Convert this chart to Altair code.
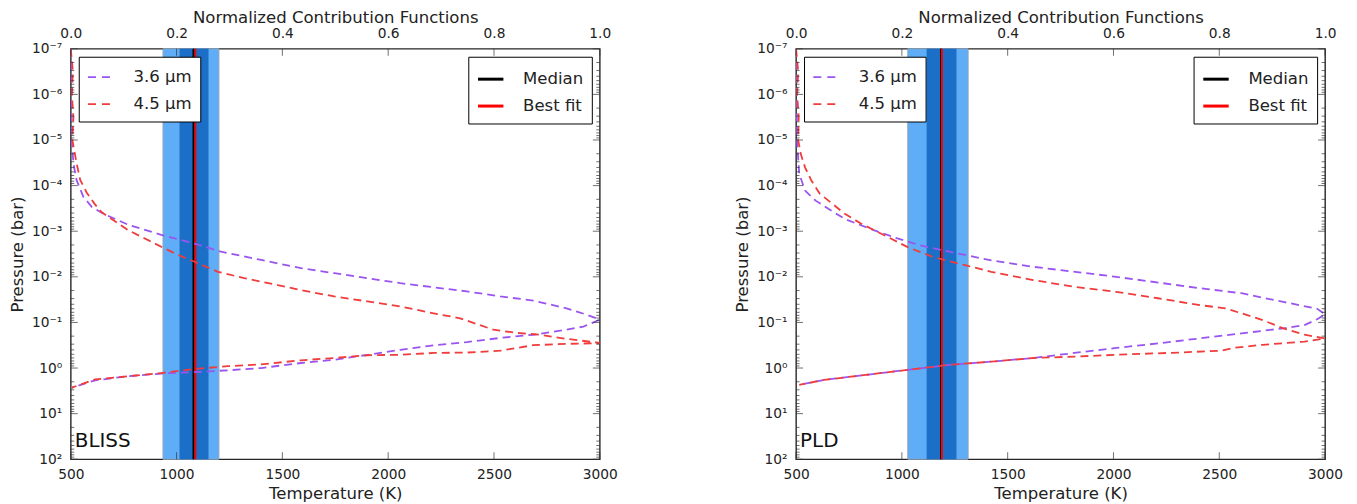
import altair as alt
import pandas as pd

# ---------------- data ----------------
# log10 pressure (bar) and normalized contribution, BLISS panel
BLISS_36_LOGP = [-7.0, -6.0, -5.0, -4.49, -4.12, -3.75, -3.53, -3.37, -3.14, -2.92, -2.73, -2.55, -2.37,
                 -2.19, -2.08, -1.97, -1.86, -1.77, -1.68, -1.57, -1.48, -1.31, -1.17, -1.06, -0.91,
                 -0.84, -0.73, -0.66, -0.57, -0.50, -0.40, -0.29, -0.18, -0.11, 0.00, 0.05, 0.09,
                 0.12, 0.18, 0.27, 0.43]
BLISS_36_C = [0.0, 0.001, 0.002, 0.005, 0.011, 0.024, 0.040, 0.064, 0.109, 0.171, 0.234, 0.284, 0.360,
              0.435, 0.498, 0.561, 0.623, 0.686, 0.749, 0.812, 0.874, 0.937, 0.975, 1.0, 0.969,
              0.937, 0.874, 0.812, 0.749, 0.686, 0.623, 0.561, 0.498, 0.435, 0.360, 0.297, 0.234,
              0.171, 0.109, 0.046, 0.002]
BLISS_45_LOGP = [-7.0, -6.5, -6.0, -5.5, -5.0, -4.49, -4.12, -3.85, -3.60, -3.42, -3.02, -2.84, -2.66,
                 -2.48, -2.33, -2.11, -1.97, -1.82, -1.71, -1.57, -1.46, -1.35, -1.20, -1.09, -0.99,
                 -0.84, -0.77, -0.73, -0.64, -0.56, -0.545, -0.53, -0.50, -0.44, -0.38, -0.34, -0.33,
                 -0.29, -0.28, -0.22, -0.17, -0.08, -0.04, 0.02, 0.11, 0.18, 0.25, 0.43]
BLISS_45_C = [0.0, 0.004, 0.002, 0.005, 0.003, 0.011, 0.018, 0.030, 0.045, 0.058, 0.109, 0.140, 0.171,
              0.203, 0.234, 0.278, 0.328, 0.391, 0.435, 0.498, 0.561, 0.623, 0.686, 0.736, 0.761,
              0.799, 0.843, 0.887, 0.937, 0.994, 1.0, 0.937, 0.874, 0.843, 0.812, 0.749, 0.686,
              0.623, 0.561, 0.498, 0.435, 0.360, 0.297, 0.234, 0.171, 0.109, 0.046, 0.002]

# PLD panel
PLD_36_LOGP = [-7.0, -6.0, -5.0, -4.77, -4.26, -3.89, -3.67, -3.49, -3.27, -3.16, -3.02, -2.86, -2.69,
               -2.55, -2.36, -2.22, -2.00, -1.75, -1.64, -1.45, -1.30, -1.18, -1.07, -0.94, -0.87,
               -0.76, -0.65, -0.54, -0.44, -0.33, -0.22, -0.14, -0.07, 0.04, 0.15, 0.26, 0.37]
PLD_36_C = [0.0, 0.001, 0.002, 0.003, 0.006, 0.017, 0.037, 0.061, 0.092, 0.116, 0.148, 0.187, 0.234,
            0.290, 0.369, 0.448, 0.605, 0.763, 0.842, 0.921, 0.985, 1.0, 0.985, 0.961, 0.921,
            0.842, 0.763, 0.684, 0.605, 0.526, 0.448, 0.369, 0.290, 0.211, 0.132, 0.053, 0.006]
PLD_45_LOGP = [-7.0, -6.5, -6.0, -5.5, -5.0, -4.69, -4.40, -4.11, -3.82, -3.60, -3.38, -3.16, -3.02,
               -2.84, -2.65, -2.44, -2.25, -2.11, -1.93, -1.78, -1.67, -1.53, -1.38, -1.31, -1.20,
               -1.05, -0.87, -0.73, -0.65, -0.58, -0.51, -0.44, -0.38, -0.34, -0.29, -0.25, -0.22,
               -0.14, -0.07, 0.04, 0.15, 0.26, 0.37]
PLD_45_C = [0.0, 0.004, 0.002, 0.005, 0.004, 0.009, 0.017, 0.029, 0.045, 0.069, 0.092, 0.124, 0.148,
            0.179, 0.211, 0.258, 0.321, 0.369, 0.448, 0.526, 0.605, 0.684, 0.763, 0.811, 0.842,
            0.882, 0.921, 0.961, 1.0, 0.961, 0.882, 0.826, 0.803, 0.724, 0.605, 0.526, 0.448,
            0.369, 0.290, 0.211, 0.132, 0.053, 0.006]

# isothermal temperature: 2-sigma band, 1-sigma band, median, best fit (K)
BLISS_2SIG = [936, 1200]
BLISS_1SIG = [1014, 1151]
BLISS_MEDIAN = 1080
BLISS_BEST = 1089
PLD_2SIG = [1028, 1313]
PLD_1SIG = [1117, 1258]
PLD_MEDIAN = 1185
PLD_BEST = 1189

WAVES = ["3.6 µm", "4.5 µm"]
FITS = ["Median", "Best fit"]
T_TICKS = [500, 1000, 1500, 2000, 2500, 3000]
C_TICKS = [0.0, 0.2, 0.4, 0.6, 0.8, 1.0]
P_MAJOR = [1e-7, 1e-6, 1e-5, 1e-4, 1e-3, 1e-2, 1e-1, 1e0, 1e1, 1e2]
P_MINOR = [k * 10.0 ** e for e in range(-7, 2) for k in range(2, 10)]

# ---------------- style ----------------
W, H = 531, 412
FONT = "DejaVu Sans"
PURPLE = "#9a55f0"
RED = "#f03c3c"
LIGHT = "#5fadf6"
DARK = "#1b6fc7"
TEXT = "#222222"
TICK = "#333333"

SUP = "['⁻⁷','⁻⁶','⁻⁵','⁻⁴','⁻³','⁻²','⁻¹','⁰','¹','²']"
YLABEL = "'10' + " + SUP + "[round(log(datum.value)/LN10) + 7]"


def y_enc():
    return alt.Y(
        "P:Q",
        scale=alt.Scale(type="log", domain=[1e-7, 1e2], reverse=True, nice=False),
        axis=alt.Axis(title="Pressure (bar)", values=P_MAJOR, labelExpr=YLABEL,
                      labelPadding=9, titlePadding=6),
    )


def t_enc(field):
    return alt.X(
        field,
        type="quantitative",
        scale=alt.Scale(domain=[500, 3000], nice=False, zero=False),
        axis=alt.Axis(orient="bottom", title="Temperature (K)", values=T_TICKS, format="d",
                      labelFlush=False, labelPadding=8, titlePadding=5),
    )


def c_enc():
    return alt.X(
        "c:Q",
        scale=alt.Scale(domain=[0, 1], nice=False, zero=False),
        axis=alt.Axis(orient="top", title="Normalized Contribution Functions", values=C_TICKS,
                      format=".1f", labelFlush=False, labelPadding=8, titlePadding=1),
    )


def panel(name, c36, lp36, c45, lp45, sig2, sig1, median, best):
    rows = []
    for wave, cs, lps in ((WAVES[0], c36, lp36), (WAVES[1], c45, lp45)):
        for i, (c, lp) in enumerate(zip(cs, lps)):
            rows.append({"band": wave, "c": c, "P": 10.0 ** lp, "i": i})
    curves = pd.DataFrame(rows)

    light = alt.Chart(pd.DataFrame({"lo": [sig2[0]], "hi": [sig2[1]]})).mark_rect(
        color=LIGHT, stroke="#8ea3ba", strokeWidth=1
    ).encode(x=t_enc("lo"), x2="hi", y=alt.value(0), y2=alt.value(H))
    dark = alt.Chart(pd.DataFrame({"lo": [sig1[0]], "hi": [sig1[1]]})).mark_rect(
        color=DARK
    ).encode(x=t_enc("lo"), x2="hi", y=alt.value(0), y2=alt.value(H))
    rules = alt.Chart(pd.DataFrame({"T": [median, best], "kind": FITS})).mark_rule(
        strokeWidth=2
    ).encode(
        x=t_enc("T"),
        color=alt.Color("kind:N", scale=alt.Scale(domain=FITS, range=["#000000", "#ff0000"]),
                        legend=alt.Legend(title=None, orient="top-right", offset=8, padding=8,
                                          strokeColor="#000000", fillColor="#ffffff",
                                          symbolType="stroke", symbolStrokeWidth=3, symbolSize=650,
                                          labelFont=FONT, labelFontSize=16.6, labelColor=TEXT,
                                          labelOffset=18, rowPadding=3, cornerRadius=0)),
    )
    bticks = alt.Chart(pd.DataFrame({"T": T_TICKS})).mark_tick(
        orient="vertical", size=7, thickness=1, color=TICK
    ).encode(x=t_enc("T"), y=alt.value(H - 3.5))
    temp = alt.layer(light, dark, rules, bticks)

    lines = alt.Chart(curves).mark_line(strokeDash=[8, 5], strokeWidth=1.8, clip=True).encode(
        x=c_enc(),
        y=y_enc(),
        order="i:Q",
        color=alt.Color("band:N", scale=alt.Scale(domain=WAVES, range=[PURPLE, RED]),
                        legend=alt.Legend(title=None, orient="top-left", offset=8, padding=8,
                                          strokeColor="#000000", fillColor="#ffffff",
                                          symbolType="stroke", symbolDash=[8, 6],
                                          symbolStrokeWidth=1.8, symbolSize=500,
                                          labelFont=FONT, labelFontSize=16.6, labelColor=TEXT,
                                          labelOffset=22, rowPadding=5, cornerRadius=0)),
    )
    tticks = alt.Chart(pd.DataFrame({"c": C_TICKS})).mark_tick(
        orient="vertical", size=7, thickness=1, color=TICK
    ).encode(x=c_enc(), y=alt.value(3.5))
    majors = pd.DataFrame({"P": P_MAJOR})
    minors = pd.DataFrame({"P": P_MINOR})
    ytick_layers = []
    for df, size in ((majors, 7), (minors, 3.5)):
        for xpos in (size / 2, W - size / 2):
            ytick_layers.append(
                alt.Chart(df).mark_tick(orient="horizontal", size=size, thickness=1, color=TICK)
                .encode(y=y_enc(), x=alt.value(xpos))
            )
    label = alt.Chart(pd.DataFrame({"t": [name]})).mark_text(
        align="left", baseline="alphabetic", fontSize=20, font=FONT, color="#111111"
    ).encode(text="t:N", x=alt.value(4), y=alt.value(H - 12))
    contrib = alt.layer(lines, tticks, *ytick_layers, label)

    return alt.layer(temp, contrib).resolve_scale(x="independent", color="independent").properties(
        width=W, height=H
    )


left = panel("BLISS", BLISS_36_C, BLISS_36_LOGP, BLISS_45_C, BLISS_45_LOGP,
             BLISS_2SIG, BLISS_1SIG, BLISS_MEDIAN, BLISS_BEST)
right = panel("PLD", PLD_36_C, PLD_36_LOGP, PLD_45_C, PLD_45_LOGP,
              PLD_2SIG, PLD_1SIG, PLD_MEDIAN, PLD_BEST)

chart = alt.hconcat(left, right, spacing=197, bounds="flush").properties(
    padding={"left": 0, "top": 0, "right": 5, "bottom": 0}
).configure_view(
    stroke="#262626", strokeWidth=1.4
).configure_axis(
    labelFont=FONT, titleFont=FONT, labelFontSize=13.8, titleFontSize=16.6,
    titleFontWeight="normal", labelColor=TEXT, titleColor=TEXT,
    grid=False, domain=False, ticks=False,
)

chart.save("out.html", embed_options={"renderer": "svg", "actions": False})
